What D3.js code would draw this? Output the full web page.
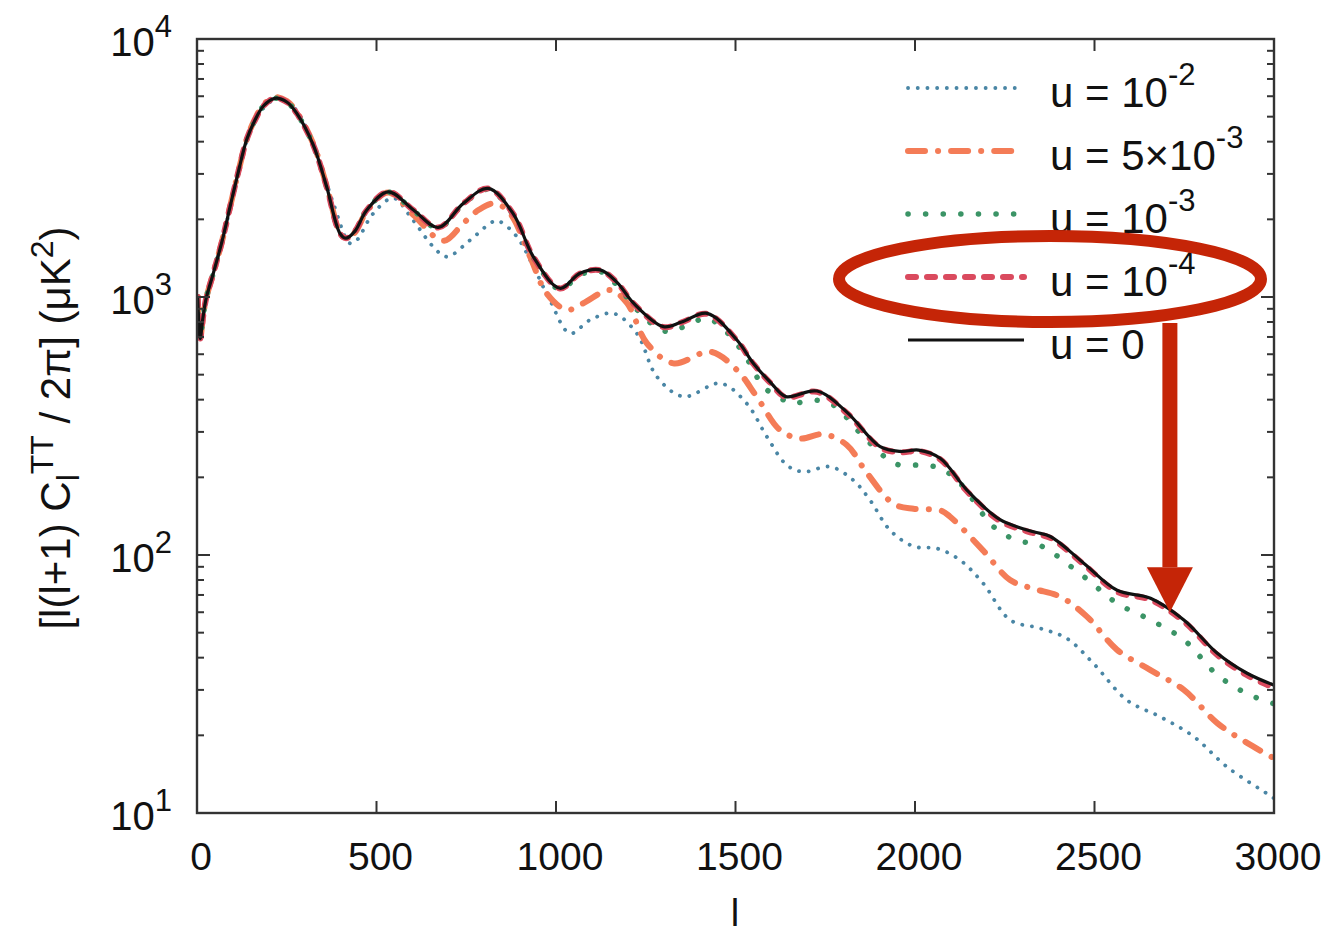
<!DOCTYPE html>
<html><head><meta charset="utf-8">
<script src="https://cdn.jsdelivr.net/npm/d3@7"></script>
<style>
body{margin:0;background:#fff}
svg{display:block}
text{font-family:"Liberation Sans",Arial,Helvetica,sans-serif;fill:#111}
</style>
</head><body>
<svg id="c" width="1334" height="936"></svg>
<script>
// ---------- data ----------
const xTickValues = [0, 500, 1000, 1500, 2000, 2500, 3000];
const yDecades = [10, 100, 1000, 10000];
const yTickExponents = ["1", "2", "3", "4"];

const seriesLabels = ["-2", "-3", "-3", "-4", ""];
const seriesPrefix = ["u = 10", "u = 5\u00d710", "u = 10", "u = 10", "u = 0"];

// u = 0 (solid black)
const lU0 = [2,5,9,16,25,45,70,92,115,138,160,185,217,250,278,324,361,398,415,440,473,533,603,672,742,811,881,937,1011,1067,1123,1170,1216,1299,1350,1421,1504,1550,1600,1640,1727,1810,1903,1960,2010,2070,2144,2237,2330,2377,2470,2563,2656,2749,2842,2925,3000];
const cU0 = [1000,800,690,820,980,1230,1650,2233,3050,4064,4800,5500,5890,5700,5150,3880,2680,1766,1690,1800,2173,2557,2173,1860,2306,2636,2100,1432,1081,1236,1274,1140,946,768,800,864,681,553,463,411,432,358,263,252,255,237,179,137,123,118,93,73,68,56,41.6,34.8,31.3];

// u = 1e-4 (red dashed)
const lU4 = [2,5,9,16,25,45,70,92,115,138,160,185,217,250,278,324,361,398,415,440,473,533,603,672,742,811,881,937,1011,1067,1123,1170,1216,1299,1350,1421,1504,1550,1600,1640,1727,1810,1903,1960,2010,2070,2144,2237,2330,2377,2470,2563,2656,2749,2842,2925,3000];
const cU4 = [1000,800,690,820,980,1230,1650,2233,3050,4064,4800,5500,5900,5700,5150,3880,2680,1766,1690,1800,2173,2557,2170,1858,2303,2632,2097,1430,1079,1233,1270,1137,943,765,797,860,678,550,460,409,429,355,261,250,253,235,177,135.5,121.5,116.5,92,72,67,55.2,41,34.2,30.6];

// u = 1e-3 (green dotted)
const lU3 = [2,5,9,16,25,45,70,92,115,138,160,185,217,250,278,324,361,398,415,440,473,533,603,672,742,811,881,937,1011,1067,1123,1170,1216,1260,1308,1360,1421,1480,1540,1577,1634,1661,1717,1773,1847,1921,1958,2014,2070,2125,2218,2283,2348,2470,2563,2656,2749,2842,2925,3000];
const cU3 = [1000,800,690,820,980,1230,1650,2233,3050,4064,4800,5500,5890,5700,5150,3880,2680,1766,1690,1800,2173,2550,2160,1850,2290,2610,2080,1420,1070,1220,1255,1110,925,800,735,770,826,720,553,450,399,387,399,381,297,237,223,223,217,190,129,114,109,82.5,65,56,46.9,34.3,29,26.5];

// u = 5e-3 (orange dash-dot)
const lU53 = [2,5,9,16,25,45,70,92,115,138,160,185,217,250,278,324,361,398,415,440,473,533,603,686,742,784,830,872,928,974,1030,1076,1151,1198,1253,1327,1430,1504,1559,1624,1680,1745,1810,1866,1940,1996,2070,2097,2190,2265,2330,2404,2479,2563,2656,2749,2842,2925,3000];
const cU53 = [1000,800,690,820,980,1230,1650,2233,3050,4064,4850,5560,5950,5750,5200,3920,2700,1780,1690,1780,2150,2540,2080,1650,1932,2173,2306,2109,1432,1032,891,946,1064,946,662,553,614,521,411,305,283,294,267,208,158,151,149,141,104,80,74,69,57.7,42.9,35.8,30,22.3,18.7,16.3];

// u = 1e-2 (blue dotted)
const lU2 = [2,5,9,16,25,45,70,92,115,138,160,188,222,255,285,343,380,426,445,490,547,600,658,696,761,825,844,891,937,983,1039,1095,1160,1225,1281,1355,1458,1531,1587,1643,1689,1763,1828,1875,1930,1996,2061,2125,2190,2265,2348,2422,2497,2590,2683,2776,2869,2980,3000];
const cU2 = [1000,800,690,820,980,1230,1650,2200,3000,4000,4750,5450,5850,5650,5100,3300,2300,1615,1660,2100,2416,2000,1566,1432,1663,1960,1959,1713,1312,973,723,815,864,723,491,411,463,387,288,223,210,220,195,163,125,108,106,95.7,77.6,56,52,47.6,38,27.4,23.6,19.8,15.1,11.9,11.4];

// annotation anchor (data coordinates): arrow tip
const arrowTipL = 2710, arrowTipV = 60;

// ---------- layout ----------
const svg = d3.select("#c");
const x = d3.scaleLinear().domain([0, 3000]).range([197, 1274]);
const y = d3.scaleLog().domain([10, 10000]).range([813, 39]);

const series = [
  {l: lU2,  c: cU2,  color: "#4a86a5", w: 3.8, dash: "0.1 9.6", cap: "round"},
  {l: lU53, c: cU53, color: "#f47c57", w: 6,   dash: "17 13 0.1 13", cap: "round"},
  {l: lU3,  c: cU3,  color: "#3b9466", w: 5.5, dash: "0.1 17.5", cap: "round"},
  {l: lU4,  c: cU4,  color: "#da4a5e", w: 6,   dash: "8 11", cap: "round"},
  {l: lU0,  c: cU0,  color: "#111111", w: 3.2, dash: null, cap: "butt"}
];

const line = d3.line()
  .x(d => x(d[0])).y(d => y(d[1]))
  .curve(d3.curveCatmullRom.alpha(0.5));

const plot = svg.append("g");
plot.append("defs").append("clipPath").attr("id", "clip")
  .append("rect").attr("x", 197).attr("y", 39).attr("width", 1077).attr("height", 774);

const curves = plot.append("g").attr("clip-path", "url(#clip)");
series.forEach(s => {
  const pts = s.l.map((l, i) => [l, s.c[i]]);
  curves.append("path")
    .attr("d", line(pts))
    .attr("fill", "none")
    .attr("stroke", s.color)
    .attr("stroke-width", s.w)
    .attr("stroke-linecap", s.cap)
    .attr("stroke-linejoin", "round")
    .attr("stroke-dasharray", s.dash);
});

// frame
const axisColor = "#333";
svg.append("rect").attr("x", 197).attr("y", 39).attr("width", 1077).attr("height", 774)
  .attr("fill", "none").attr("stroke", axisColor).attr("stroke-width", 2.4);

// x ticks (bottom and top, inward)
const [yBot, yTop] = y.range();
xTickValues.forEach(t => {
  svg.append("line").attr("x1", x(t)).attr("x2", x(t)).attr("y1", yBot).attr("y2", yBot - 12)
    .attr("stroke", axisColor).attr("stroke-width", 2);
  svg.append("line").attr("x1", x(t)).attr("x2", x(t)).attr("y1", yTop).attr("y2", yTop + 12)
    .attr("stroke", axisColor).attr("stroke-width", 2);
  svg.append("text").attr("x", x(t) + 4).attr("y", 870)
    .attr("text-anchor", "middle").attr("font-size", 39).text(t);
});

// y ticks (left and right, inward), log minor ticks
const [xL, xR] = x.range();
yDecades.forEach((d, i) => {
  svg.append("line").attr("x1", xL).attr("x2", xL + 13).attr("y1", y(d)).attr("y2", y(d))
    .attr("stroke", axisColor).attr("stroke-width", 2);
  svg.append("line").attr("x1", xR).attr("x2", xR - 13).attr("y1", y(d)).attr("y2", y(d))
    .attr("stroke", axisColor).attr("stroke-width", 2);
  if (d < 10000) {
    for (let k = 2; k <= 9; k++) {
      const v = d * k;
      svg.append("line").attr("x1", xL).attr("x2", xL + 7).attr("y1", y(v)).attr("y2", y(v))
        .attr("stroke", axisColor).attr("stroke-width", 2);
      svg.append("line").attr("x1", xR).attr("x2", xR - 7).attr("y1", y(v)).attr("y2", y(v))
        .attr("stroke", axisColor).attr("stroke-width", 2);
    }
  }
  const t = svg.append("text").attr("x", 172).attr("y", y(d) + 17)
    .attr("text-anchor", "end").attr("font-size", 40);
  t.append("tspan").text("10");
  t.append("tspan").attr("dy", -19).attr("font-size", 31).text(yTickExponents[i]);
});

// axis titles
svg.append("text").attr("x", 735).attr("y", 926).attr("text-anchor", "middle")
  .attr("font-size", 38).text("l");

const yl = svg.append("text").attr("transform", "translate(70,428) rotate(-90)")
  .attr("text-anchor", "middle").attr("font-size", 42);
yl.append("tspan").text("[l(l+1) C");
yl.append("tspan").attr("dy", 9).attr("font-size", 32).text("l");
yl.append("tspan").attr("dy", -26).attr("font-size", 32).text("TT");
yl.append("tspan").attr("dy", 17).text(" / 2\u03c0] (\u03bcK");
yl.append("tspan").attr("dy", -17).attr("font-size", 32).text("2");
yl.append("tspan").attr("dy", 17).text(")");

// legend
const legY0 = 88, legStep = 63;
series.forEach((s, i) => {
  const yy = legY0 + i * legStep;
  svg.append("line").attr("x1", 908).attr("x2", 1024).attr("y1", yy).attr("y2", yy)
    .attr("stroke", s.color).attr("stroke-width", s.w)
    .attr("stroke-linecap", s.cap).attr("stroke-dasharray", s.dash);
  const t = svg.append("text").attr("x", 1050).attr("y", yy + 19).attr("font-size", 42);
  t.append("tspan").text(seriesPrefix[i]);
  if (seriesLabels[i]) t.append("tspan").attr("dy", -22).attr("font-size", 31).text(seriesLabels[i]);
});

// annotation (red ellipse + arrow)
const red = "#c52507";
const ellY = legY0 + 3 * legStep + 2;
svg.append("ellipse").attr("cx", 1050).attr("cy", ellY).attr("rx", 211).attr("ry", 43)
  .attr("fill", "none").attr("stroke", red).attr("stroke-width", 12);
const tipX = x(arrowTipL), tipY = y(arrowTipV);
svg.append("rect").attr("x", tipX - 7.5).attr("y", ellY + 44).attr("width", 15)
  .attr("height", (tipY - 45) - (ellY + 44)).attr("fill", red);
svg.append("path")
  .attr("d", `M${tipX - 23},${tipY - 45} L${tipX + 23},${tipY - 45} L${tipX},${tipY} Z`)
  .attr("fill", red);
</script>
</body></html>
